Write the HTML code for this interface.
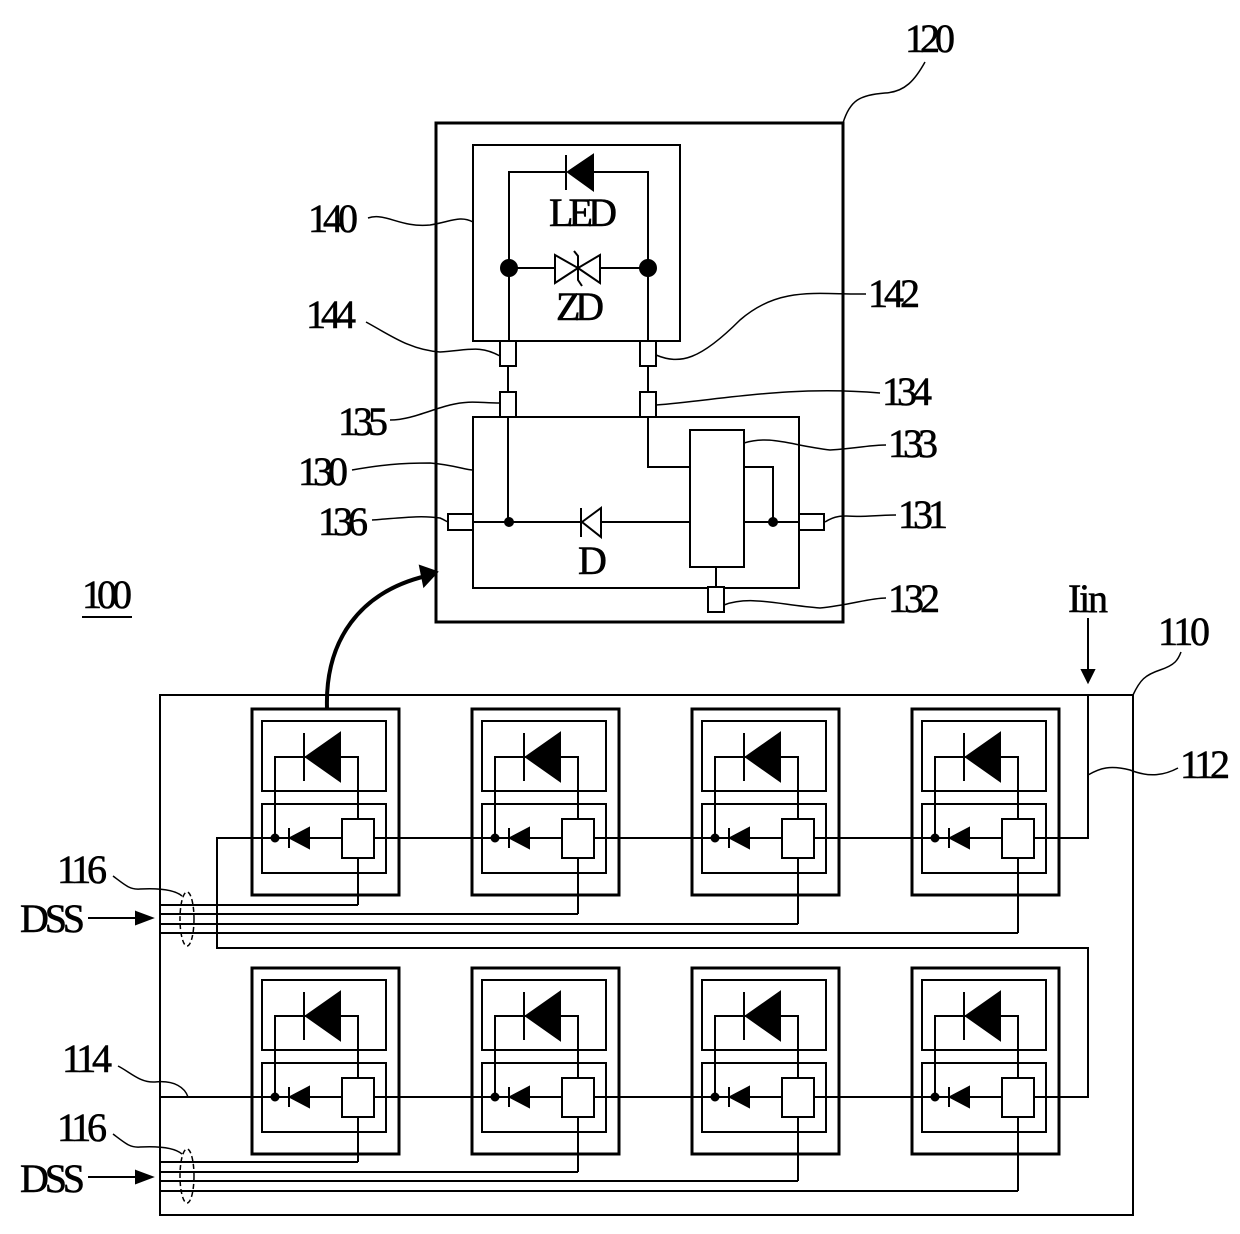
<!DOCTYPE html>
<html><head><meta charset="utf-8"><style>
html,body{margin:0;padding:0;background:#fff;}
svg{display:block;}
text{font-family:"Liberation Serif",serif;font-size:40px;fill:#000;stroke:#000;stroke-width:0.6;}
</style></head><body>
<svg width="1240" height="1234" viewBox="0 0 1240 1234" xmlns="http://www.w3.org/2000/svg">
<defs>
<g id="cell" fill="none" stroke="#000" stroke-width="2">
 <rect x="0" y="0" width="147" height="186" stroke-width="3"/>
 <rect x="10" y="12" width="124" height="70"/>
 <rect x="10" y="95" width="124" height="69"/>
 <line x1="52" y1="24" x2="52" y2="72"/>
 <polygon points="54,48 88,24 88,72" fill="#000"/>
 <polyline points="54,48 23,48 23,129"/>
 <polyline points="88,48 106,48 106,110"/>
 <line x1="37" y1="119" x2="37" y2="139"/>
 <polygon points="38,129 57,119 57,139" fill="#000"/>
 <circle cx="23" cy="129" r="3.5" fill="#000"/>
 <rect x="90" y="110" width="32" height="39" fill="#fff"/>
</g>
</defs>
<g fill="none" stroke="#000" stroke-width="2">
 <rect x="436" y="123" width="407" height="499" stroke-width="3"/>
 <rect x="473" y="145" width="207" height="196"/>
 <polyline points="566,172 509,172 509,341"/>
 <polyline points="593,172 648,172 648,341"/>
 <line x1="566" y1="155" x2="566" y2="190"/>
 <polygon points="568,172 593,155 593,190" fill="#000"/>
 <line x1="509" y1="268" x2="555" y2="268"/>
 <line x1="600" y1="268" x2="648" y2="268"/>
 <polygon points="555,255 555,283 578,268" fill="#fff"/>
 <polygon points="600,255 600,283 578,268" fill="#fff"/>
 <polyline points="574,251 578,256 578,280 582,286"/>
 <circle cx="509" cy="268" r="8" fill="#000"/>
 <circle cx="648" cy="268" r="8" fill="#000"/>
 <rect x="500" y="341" width="16" height="25" fill="#fff"/>
 <rect x="640" y="341" width="16" height="25" fill="#fff"/>
 <line x1="508" y1="366" x2="508" y2="392"/>
 <line x1="648" y1="366" x2="648" y2="392"/>
 <rect x="500" y="392" width="16" height="25" fill="#fff"/>
 <rect x="640" y="392" width="16" height="25" fill="#fff"/>
 <rect x="473" y="417" width="326" height="171"/>
 <rect x="690" y="430" width="54" height="137"/>
 <polyline points="648,417 648,467 690,467"/>
 <polyline points="744,467 773,467 773,522"/>
 <line x1="508" y1="417" x2="508" y2="522"/>
 <line x1="473" y1="522" x2="581" y2="522"/>
 <line x1="601" y1="522" x2="690" y2="522"/>
 <line x1="744" y1="522" x2="799" y2="522"/>
 <line x1="581" y1="508" x2="581" y2="537"/>
 <polygon points="582,522 601,508 601,537" fill="#fff"/>
 <circle cx="509" cy="522" r="4" fill="#000"/>
 <circle cx="773" cy="522" r="4" fill="#000"/>
 <rect x="448" y="514" width="25" height="16" fill="#fff"/>
 <rect x="799" y="514" width="25" height="16" fill="#fff"/>
 <line x1="716" y1="567" x2="716" y2="587"/>
 <rect x="708" y="587" width="16" height="25" fill="#fff"/>
 <path d="M843,123 C850,100 860,95 885,93 C905,92 915,80 925,62" stroke-width="1.5"/>
 <path d="M368,218 C385,212 400,228 430,225 C450,222 460,215 473,222" stroke-width="1.5"/>
 <path d="M366,322 C390,335 410,350 440,352 C470,350 480,345 500,356" stroke-width="1.5"/>
 <path d="M656,355 C680,365 700,360 740,320 C780,285 820,295 866,294" stroke-width="1.5"/>
 <path d="M390,420 C410,420 430,410 450,405 C470,400 480,403 500,403" stroke-width="1.5"/>
 <path d="M656,405 C720,400 790,385 880,393" stroke-width="1.5"/>
 <path d="M744,443 C770,435 790,445 830,450 C860,448 870,445 886,445" stroke-width="1.5"/>
 <path d="M352,470 C380,465 400,463 430,463 C455,465 465,470 473,470" stroke-width="1.5"/>
 <path d="M372,520 C400,518 420,515 440,518 C445,520 447,522 448,522" stroke-width="1.5"/>
 <path d="M825,522 C840,512 850,518 870,516 C885,515 890,515 896,515" stroke-width="1.5"/>
 <path d="M724,605 C750,595 780,605 820,608 C850,605 870,598 886,598" stroke-width="1.5"/>
 <path d="M327,708 C325,640 360,592 426,576" stroke-width="4"/>
 <polygon points="437,572 420,566 424,586" fill="#000"/>
 <rect x="160" y="695" width="973" height="520"/>
 <line x1="1088" y1="618" x2="1088" y2="678"/>
 <polygon points="1082,670 1094,670 1088,682" fill="#000"/>
 <polyline points="1088,695 1088,838 217,838 217,948 1088,948 1088,1097 160,1097"/>
 <path d="M1133,695 C1140,680 1145,675 1160,670 C1175,665 1178,660 1181,652" stroke-width="1.5"/>
 <path d="M1088,775 C1100,768 1110,765 1130,770 C1150,778 1165,775 1178,768" stroke-width="1.5"/>
 <line x1="160" y1="905" x2="358" y2="905"/>
 <line x1="160" y1="914" x2="578" y2="914"/>
 <line x1="160" y1="924" x2="798" y2="924"/>
 <line x1="160" y1="933" x2="1018" y2="933"/>
 <line x1="160" y1="1162" x2="358" y2="1162"/>
 <line x1="160" y1="1172" x2="578" y2="1172"/>
 <line x1="160" y1="1181" x2="798" y2="1181"/>
 <line x1="160" y1="1191" x2="1018" y2="1191"/>
 <line x1="358" y1="858" x2="358" y2="905"/>
 <line x1="578" y1="858" x2="578" y2="914"/>
 <line x1="798" y1="858" x2="798" y2="924"/>
 <line x1="1018" y1="858" x2="1018" y2="933"/>
 <line x1="358" y1="1117" x2="358" y2="1162"/>
 <line x1="578" y1="1117" x2="578" y2="1172"/>
 <line x1="798" y1="1117" x2="798" y2="1181"/>
 <line x1="1018" y1="1117" x2="1018" y2="1191"/>
 <ellipse cx="187" cy="919" rx="7" ry="27" stroke-dasharray="5,3" stroke-width="1.5"/>
 <ellipse cx="187" cy="1176" rx="7" ry="27" stroke-dasharray="5,3" stroke-width="1.5"/>
 <path d="M113,876 C125,885 130,890 140,889 C160,888 175,890 182,896" stroke-width="1.5"/>
 <path d="M113,1134 C125,1143 130,1148 140,1147 C160,1146 175,1148 182,1154" stroke-width="1.5"/>
 <path d="M118,1066 C130,1072 140,1083 155,1082 C175,1080 185,1088 188,1097" stroke-width="1.5"/>
 <line x1="88" y1="918" x2="140" y2="918"/>
 <polygon points="136,912 152,918 136,924" fill="#000"/>
 <line x1="88" y1="1177" x2="140" y2="1177"/>
 <polygon points="136,1171 152,1177 136,1183" fill="#000"/>
 <line x1="82" y1="617" x2="132" y2="617" stroke-width="2"/>
</g>
<use href="#cell" x="252" y="709"/>
<use href="#cell" x="472" y="709"/>
<use href="#cell" x="692" y="709"/>
<use href="#cell" x="912" y="709"/>
<use href="#cell" x="252" y="968"/>
<use href="#cell" x="472" y="968"/>
<use href="#cell" x="692" y="968"/>
<use href="#cell" x="912" y="968"/>
<g>
 <text x="905" y="52" textLength="50">120</text>
 <text x="549" y="226" textLength="68">LED</text>
 <text x="556" y="320" textLength="48">ZD</text>
 <text x="578" y="574" textLength="26">D</text>
 <text x="308" y="232" textLength="50">140</text>
 <text x="306" y="328" textLength="50">144</text>
 <text x="868" y="307" textLength="52">142</text>
 <text x="338" y="435" textLength="50">135</text>
 <text x="882" y="405" textLength="50">134</text>
 <text x="888" y="457" textLength="50">133</text>
 <text x="298" y="485" textLength="50">130</text>
 <text x="318" y="535" textLength="50">136</text>
 <text x="898" y="528" textLength="50">131</text>
 <text x="888" y="612" textLength="52">132</text>
 <text x="82" y="608" textLength="50">100</text>
 <text x="1068" y="612" textLength="40">Iin</text>
 <text x="1158" y="645" textLength="52">110</text>
 <text x="1180" y="778" textLength="50">112</text>
 <text x="57" y="883" textLength="50">116</text>
 <text x="20" y="932" textLength="65">DSS</text>
 <text x="62" y="1072" textLength="50">114</text>
 <text x="57" y="1141" textLength="50">116</text>
 <text x="20" y="1192" textLength="65">DSS</text>
</g>
</svg>
</body></html>
